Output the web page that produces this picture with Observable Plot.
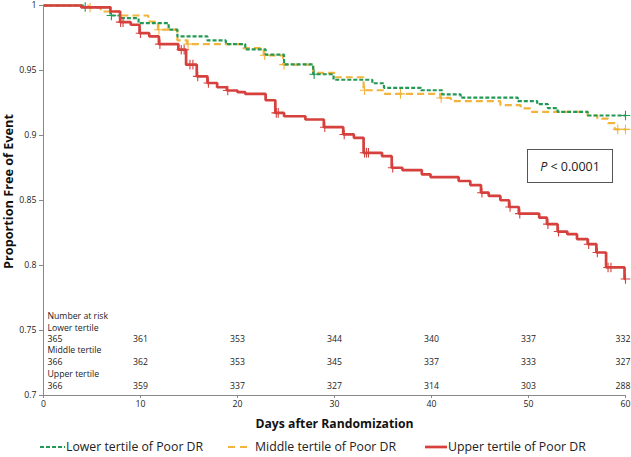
<!DOCTYPE html>
<html>
<head>
<meta charset="utf-8">
<script src="https://cdn.jsdelivr.net/npm/d3@7"></script>
<script src="https://cdn.jsdelivr.net/npm/@observablehq/plot@0.6"></script>
<style>
  html, body { margin: 0; padding: 0; background: #fff; }
  #wrap { position: relative; width: 631px; height: 457px; font-family: "Open Sans", sans-serif; color: #222; }
  #pbox { position: absolute; left: 527px; top: 149px; width: 84px; height: 32px; border: 1px solid #555;
          display: flex; align-items: center; justify-content: center; font-size: 12.5px; background: #fff; }
  #legend { position: absolute; left: 0; top: 436px; width: 631px; height: 21px; font-size: 12.3px; }
  .item { position: absolute; top: 0; height: 21px; display: flex; align-items: center; white-space: nowrap; }
  .item svg { display: block; }
</style>
</head>
<body>
<div id="wrap">
  <div id="chart"></div>
  <div id="pbox"><span><i>P</i> &lt; 0.0001</span></div>
  <div id="legend"></div>
</div>
<script>
// ---- data ----
const seriesNames = ["Lower tertile of Poor DR", "Middle tertile of Poor DR", "Upper tertile of Poor DR"];
const seriesColors = ["#229954", "#f2b43c", "#d6403d"];

const lowerDays = [0, 4.1, 6.9, 7.9, 9.8, 12.9, 13.8, 16.9, 18.8, 20.8, 22.9, 24.8, 27.8, 29.9, 33.9, 35.1, 38.9, 41.1, 43.0, 48.9, 50.9, 52.0, 53.0, 56.1, 60];
const lowerSurv = [1.0, 0.9988, 0.9923, 0.9903, 0.9864, 0.9814, 0.9762, 0.9731, 0.9703, 0.9663, 0.9622, 0.9547, 0.9471, 0.9429, 0.9402, 0.9367, 0.9348, 0.9317, 0.9291, 0.9264, 0.9241, 0.921, 0.9182, 0.9154, 0.9154];
const lowerCensor = [4.3, 7.0, 27.9, 60];

const middleDays = [0, 4.6, 5.9, 7.9, 10.8, 11.8, 13.8, 14.8, 20.6, 22.7, 24.7, 27.8, 30.1, 33.0, 35.1, 40.9, 42.0, 47.1, 49.2, 50.2, 56.1, 57.1, 58.2, 58.9, 60];
const middleSurv = [1.0, 0.9985, 0.9954, 0.9923, 0.9877, 0.9814, 0.9732, 0.9703, 0.9672, 0.9617, 0.9545, 0.9482, 0.9448, 0.9348, 0.932, 0.9289, 0.9264, 0.9233, 0.9208, 0.9182, 0.9154, 0.913, 0.9095, 0.9047, 0.9047];
const middleCensor = [4.8, 11.9, 14.9, 22.8, 24.8, 33.1, 36.8, 41.0, 59.2, 60];

const upperDays = [0, 3.9, 6.9, 7.9, 9.0, 9.9, 10.9, 11.9, 13.9, 14.7, 15.8, 16.9, 17.9, 18.9, 20.0, 20.8, 22.9, 23.9, 24.8, 27.0, 28.9, 30.9, 32.0, 33.0, 34.9, 35.9, 37.0, 39.0, 39.9, 42.8, 44.0, 45.1, 45.9, 47.1, 48.0, 49.0, 51.1, 51.9, 53.0, 54.0, 55.0, 56.1, 57.0, 58.0, 59.9, 60];
const upperSurv = [1.0, 0.9985, 0.9954, 0.9872, 0.9852, 0.9787, 0.9762, 0.9703, 0.966, 0.9545, 0.9455, 0.9404, 0.9371, 0.9346, 0.9333, 0.932, 0.9271, 0.9174, 0.9148, 0.9123, 0.9064, 0.9008, 0.8982, 0.8867, 0.8841, 0.8752, 0.8734, 0.8701, 0.868, 0.865, 0.8619, 0.856, 0.8535, 0.8502, 0.845, 0.8399, 0.8368, 0.8318, 0.8261, 0.8241, 0.8203, 0.8164, 0.81, 0.7985, 0.7896, 0.7896];
const upperCensor = [7.95, 8.2, 10.0, 12.0, 14.2, 14.5, 15.1, 15.4, 15.9, 17.0, 19.0, 24.0, 24.2, 29.0, 31.0, 33.1, 33.3, 33.5, 36.0, 45.2, 48.1, 49.1, 52.0, 53.1, 56.2, 57.1, 58.2, 58.5, 60];

const xTicks = [0, 10, 20, 30, 40, 50, 60];
const yTicks = [0.7, 0.75, 0.8, 0.85, 0.9, 0.95, 1];

const riskDays = [0, 10, 20, 30, 40, 50, 60];
const riskLower = [365, 361, 353, 344, 340, 337, 332];
const riskMiddle = [366, 362, 353, 345, 337, 333, 327];
const riskUpper = [366, 359, 337, 327, 314, 303, 288];
const riskLabels = ["Lower tertile", "Middle tertile", "Upper tertile"];
const riskTitle = "Number at risk";
const xTitle = "Days after Randomization";
const yTitle = "Proportion Free of Event";

// ---- build tables ----
const toSteps = (days, surv) => days.map((d, i) => ({day: d, s: surv[i]}));
const stepAt = (steps, t) => { let v = steps[0].s; for (const p of steps) if (p.day <= t) v = p.s; return v; };
const groups = [
  {steps: toSteps(lowerDays, lowerSurv), cens: lowerCensor, dash: "4,2", width: 2.2},
  {steps: toSteps(middleDays, middleSurv), cens: middleCensor, dash: "7,4", width: 2.2},
  {steps: toSteps(upperDays, upperSurv), cens: upperCensor, dash: null, width: 2.7}
];
groups.forEach((g, i) => { g.color = seriesColors[i]; g.censPts = g.cens.map(t => ({day: t, s: stepAt(g.steps, t)})); });

const riskRows = [riskLower, riskMiddle, riskUpper];
const rowNumDy = [-56.5, -33, -9];
const rowLabelDy = [-67.5, -45, -21];
const fs = 8.7;
const txt = {fontSize: fs, fill: "#222", lineAnchor: "middle"};

const marks = [];
// drawing order: middle, lower, upper
[1, 0, 2].forEach(i => {
  const g = groups[i];
  marks.push(Plot.line(g.steps, {x: "day", y: "s", curve: "step-after", stroke: g.color, strokeWidth: g.width,
    strokeDasharray: g.dash, strokeLinecap: "butt", strokeLinejoin: "miter"}));
  marks.push(Plot.dot(g.censPts, {x: "day", y: "s", symbol: "plus", r: 3.2, stroke: g.color, strokeWidth: 1.1}));
});
marks.push(Plot.ruleX([0], {stroke: "#888", strokeWidth: 1}));
marks.push(Plot.ruleY([0.7], {stroke: "#888", strokeWidth: 1.2}));
marks.push(Plot.axisY({ticks: yTicks, tickSize: 4, tickPadding: 3, tickFormat: d => String(+d.toFixed(2)), fontSize: fs, label: null, stroke: "#888", fill: "#222"}));
marks.push(Plot.axisX({ticks: xTicks, tickSize: 3, tickPadding: 2, fontSize: fs, label: null, stroke: "#888", fill: "#222"}));
// number at risk table
marks.push(Plot.text([riskTitle], {...txt, frameAnchor: "bottom-left", dx: 4, dy: -79, textAnchor: "start"}));
riskRows.forEach((row, i) => {
  const rows = riskDays.map((d, j) => ({day: d, n: row[j]}));
  const first = riskDays[0], last = riskDays[riskDays.length - 1];
  marks.push(Plot.text([riskLabels[i]], {...txt, frameAnchor: "bottom-left", dx: 4, dy: rowLabelDy[i], textAnchor: "start"}));
  marks.push(Plot.text(rows.filter(r => r.day === first), {...txt, x: "day", text: "n", frameAnchor: "bottom", dx: 4, dy: rowNumDy[i], textAnchor: "start"}));
  marks.push(Plot.text(rows.filter(r => r.day !== first && r.day !== last), {...txt, x: "day", text: "n", frameAnchor: "bottom", dy: rowNumDy[i], textAnchor: "middle"}));
  marks.push(Plot.text(rows.filter(r => r.day === last), {...txt, x: "day", text: "n", frameAnchor: "bottom", dx: 5, dy: rowNumDy[i], textAnchor: "end"}));
});
// axis titles
marks.push(Plot.text([yTitle], {frameAnchor: "left", textAnchor: "middle", lineAnchor: "middle", rotate: -90, dx: -35, dy: -9, fontWeight: "bold", fontSize: 12.7, fill: "#111"}));
marks.push(Plot.text([xTitle], {frameAnchor: "bottom", textAnchor: "middle", lineAnchor: "middle", dy: 29, fontWeight: "bold", fontSize: 12.2, fill: "#111"}));

const chart = Plot.plot({
  width: 631,
  height: 436,
  marginLeft: 43,
  marginRight: 6,
  marginTop: 5,
  marginBottom: 41,
  style: {fontFamily: "Open Sans, sans-serif", background: "#fff", overflow: "visible"},
  x: {domain: [0, 60]},
  y: {domain: [0.7, 1]},
  marks
});
document.getElementById("chart").appendChild(chart);

// legend
const legend = document.getElementById("legend");
const itemLeft = [40, 228, 425];
const swatchW = [25, 19, 22];
const swatchGap = [1, 8, 1];
const swatchDash = ["4,2", "7,5", null];
seriesNames.forEach((name, i) => {
  const g = groups[i];
  const div = document.createElement("div");
  div.className = "item";
  div.style.left = itemLeft[i] + "px";
  const w = swatchW[i];
  div.innerHTML = `<svg width="${w}" height="10" style="margin-right:${swatchGap[i]}px"><line x1="0" x2="${w}" y1="5" y2="5" stroke="${g.color}" stroke-width="${g.width}" ${swatchDash[i] ? `stroke-dasharray="${swatchDash[i]}"` : ""}/></svg><span>${name}</span>`;
  legend.appendChild(div);
});
</script>
</body>
</html>
